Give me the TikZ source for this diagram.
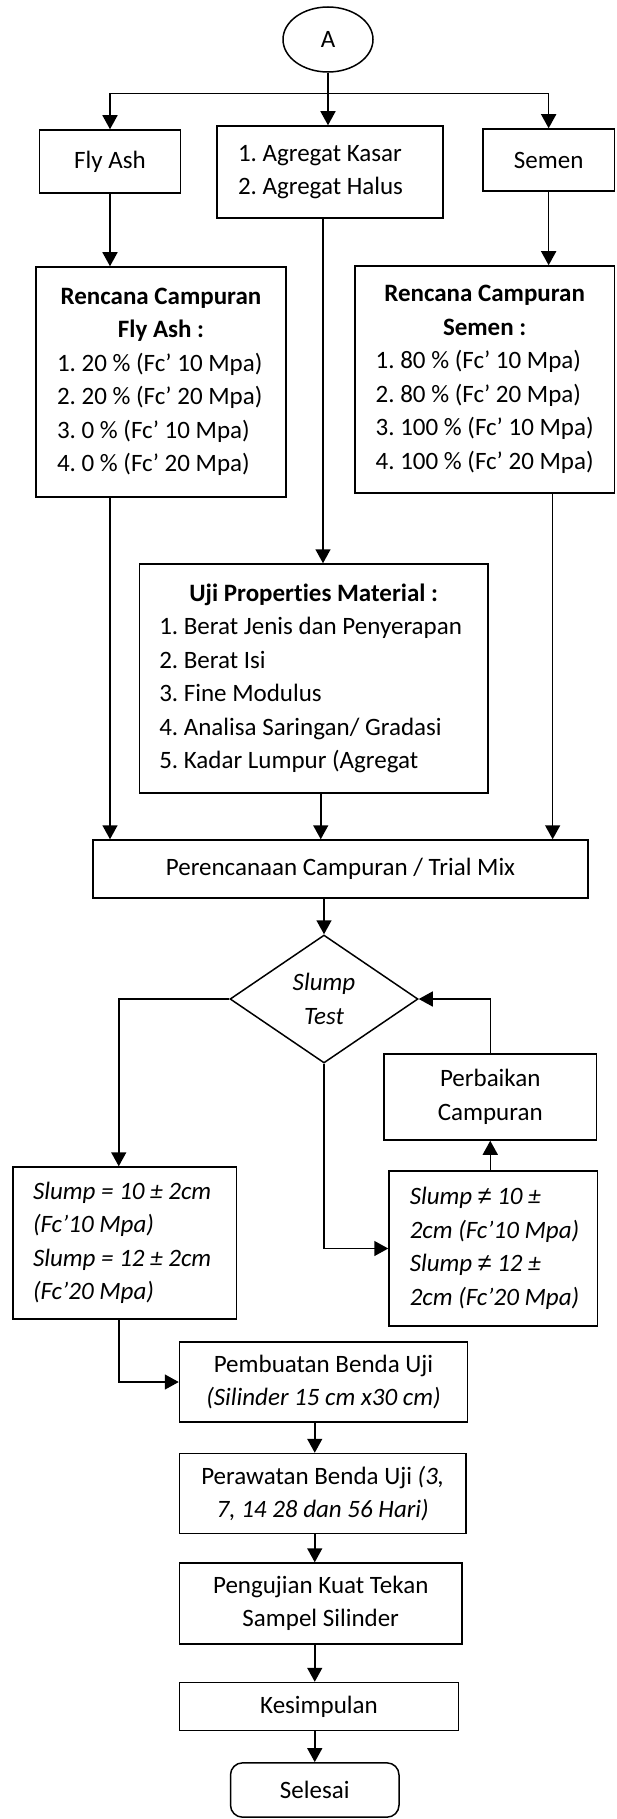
\documentclass[tikz,border=0pt]{standalone}
\usepackage{fontspec}
\setmainfont{Carlito}[Ligatures={TeX,NoCommon}]
\newfontfamily\symfont{Liberation Sans}
\usepackage{tikz}
\usetikzlibrary{arrows.meta, positioning, shapes.geometric}
\setlength{\parindent}{0pt}
\frenchspacing
\newcommand{\nesym}{{\symfont\itshape ≠}}

\begin{document}
\begin{tikzpicture}[
  x=1pt, y=-1pt,
  font=\fontsize{25}{33.5}\selectfont,
  line width=1.5pt,
  box/.style={draw, inner sep=0pt, align=flush center},
  listbox/.style={draw, inner sep=0pt, align=flush left},
  decision/.style={draw, diamond, aspect=1.47, inner sep=0pt, align=flush center, minimum width=188pt, minimum height=128pt},
  terminal/.style={draw, rounded corners=12pt, inner sep=0pt, align=flush center},
  arrow/.style={-{Triangle[length=14pt, width=15pt]}}
]
  \useasboundingbox (0,0) rectangle (616,1819);

  \node[draw, ellipse, inner sep=0pt, minimum width=90pt, minimum height=65pt] (a) at (328,39.5) {A};
  \node[box, minimum width=141pt, minimum height=63pt] (flyash) at (110,161.5) {Fly Ash};
  \node[listbox, minimum width=226pt, minimum height=92pt, text width=184pt] (agregat) at (330,172) {1. Agregat Kasar\\2. Agregat Halus};
  \node[box, minimum width=131.3pt, minimum height=62pt] (semen) at (548.65,160) {Semen};
  \node[listbox, minimum width=250pt, minimum height=230pt, text width=208pt] (rcfa) at (161,382) {\centering\textbf{Rencana Campuran}\\\textbf{Fly Ash :}\par\raggedright 1. 20 \% (Fc’ 10 Mpa)\\2. 20 \% (Fc’ 20 Mpa)\\3. 0 \% (Fc’ 10 Mpa)\\4. 0 \% (Fc’ 20 Mpa)};
  \node[listbox, minimum width=259.3pt, minimum height=227pt, text width=218pt] (rcsemen) at (484.65,379.5) {\centering\textbf{Rencana Campuran}\\\textbf{Semen :}\par\raggedright 1. 80 \% (Fc’ 10 Mpa)\\2. 80 \% (Fc’ 20 Mpa)\\3. 100 \% (Fc’ 10 Mpa)\\4. 100 \% (Fc’ 20 Mpa)};
  \node[listbox, minimum width=348.5pt, minimum height=229pt, text width=309pt] (uji) at (313.75,678.5) {\centering\textbf{Uji Properties Material :}\par\raggedright 1. Berat Jenis dan Penyerapan\\2. Berat Isi\\3. Fine Modulus\\4. Analisa Saringan/ Gradasi\\5. Kadar Lumpur (Agregat};
  \node[box, minimum width=495pt, minimum height=58pt] (trial) at (340.5,869) {Perencanaan Campuran / Trial Mix};
  \node[decision] (slump) at (324,999) {\textit{Slump}\\\textit{Test}};
  \node[box, minimum width=212.5pt, minimum height=86pt] (perbaikan) at (490.25,1097) {Perbaikan\\Campuran};
  \node[listbox, minimum width=223.5pt, minimum height=152pt, text width=183.5pt] (ok) at (124.75,1243) {\itshape Slump = 10 ± 2cm\\(Fc’10 Mpa)\\Slump = 12 ± 2cm\\(Fc’20 Mpa)};
  \node[listbox, minimum width=208.5pt, minimum height=155pt, text width=167pt] (notok) at (493.25,1248.5) {\itshape Slump \nesym{} 10 ±\\\mbox{2cm (Fc’10 Mpa)}\\Slump \nesym{} 12 ±\\\mbox{2cm (Fc’20 Mpa)}};
  \node[box, minimum width=288pt, minimum height=80pt] (pembuatan) at (323.5,1382) {Pembuatan Benda Uji\\\textit{(Silinder 15 cm x30 cm)}};
  \node[box, minimum width=286.5pt, minimum height=80pt, below=30pt of pembuatan.south west, anchor=north west] (perawatan) {Perawatan Benda Uji \textit{(3,}\\\textit{7, 14 28 dan 56 Hari)}};
  \node[box, minimum width=282.5pt, minimum height=81pt, below=28pt of perawatan.south west, anchor=north west] (pengujian) {Pengujian Kuat Tekan\\Sampel Silinder};
  \node[box, minimum width=279pt, minimum height=48pt, below=37pt of pengujian.south west, anchor=north west] (kesimpulan) {Kesimpulan};
  \node[terminal, minimum width=168.5pt, minimum height=54.3pt] (selesai) at (314.75,1790) {Selesai};

  \draw[arrow] (a.south) -- (a.south |- agregat.north);
  \draw[arrow] (a.south) -- ++(0,21) -| (flyash.north);
  \draw[arrow] (a.south) -- ++(0,21) -| (semen.north);
  \draw[arrow] (flyash.south) -- (flyash.south |- rcfa.north);
  \draw[arrow] (semen.south) -- (semen.south |- rcsemen.north);
  \draw[arrow] ([xshift=-7pt]agregat.south) -- ([xshift=-7pt]agregat.south |- uji.north);
  \draw[arrow] (flyash.south |- rcfa.south) -- (flyash.south |- trial.north);
  \draw[arrow] ([xshift=7pt]uji.south) -- ([xshift=7pt]uji.south |- trial.north);
  \draw[arrow] ([xshift=68pt]rcsemen.south) -- ([xshift=68pt]rcsemen.south |- trial.north);
  \draw[arrow] (trial.south -| slump.north) -- (slump.north);
  \draw[arrow] (slump.west) -| ([xshift=-6pt]ok.north);
  \draw[arrow] (slump.south) |- (notok.west);
  \draw[arrow] (perbaikan.south |- notok.north) -- (perbaikan.south);
  \draw[arrow] (perbaikan.north) |- (slump.east);
  \draw[arrow] ([xshift=-6pt]ok.south) |- (pembuatan.west);
  \draw[arrow] (pembuatan.south -| selesai.north) -- (perawatan.north -| selesai.north);
  \draw[arrow] (perawatan.south -| selesai.north) -- (pengujian.north -| selesai.north);
  \draw[arrow] (pengujian.south -| selesai.north) -- (kesimpulan.north -| selesai.north);
  \draw[arrow] (kesimpulan.south -| selesai.north) -- (selesai.north);
\end{tikzpicture}
\end{document}
